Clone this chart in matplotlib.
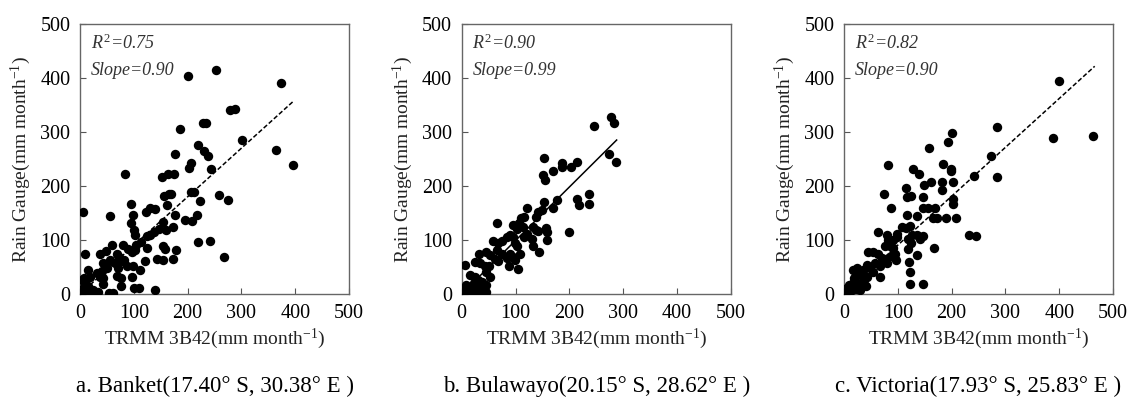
import numpy as np
import matplotlib
matplotlib.use("Agg")
import matplotlib.pyplot as plt

plt.rcParams['font.family'] = ['Liberation Serif', 'DejaVu Serif']
plt.rcParams['mathtext.fontset'] = 'custom'
plt.rcParams['mathtext.rm'] = 'Liberation Serif'
plt.rcParams['mathtext.it'] = 'Liberation Serif:italic'

# (TRMM, gauge) pairs, mm/month
banket_x = [201, 252, 374, 278, 289, 186, 229, 234, 302, 364, 395, 220, 230, 237, 177, 203, 206,
            243, 84, 153, 164, 175, 206, 212, 223, 258, 276, 156, 165, 169, 161, 195, 209, 217,
            177, 94, 5, 56, 98, 122, 131, 139, 95, 100, 102, 155, 159, 172, 124, 130, 138, 146,
            219, 242, 268, 155, 158, 143, 154, 173, 178, 121, 124, 113, 105, 9, 37, 48, 59, 79,
            90, 96, 102, 68, 73, 77, 56, 65, 71, 82, 87, 99, 112, 43, 50, 40, 31, 37, 43, 69, 77,
            96, 15, 19, 7, 9, 15, 3, 25, 34, 6, 19, 54, 62, 76, 100, 110, 139, 43, 3]
banket_y = [404, 415, 391, 341, 342, 305, 316, 316, 286, 267, 238, 276, 265, 256, 259, 234, 242,
            232, 222, 216, 222, 222, 188, 189, 173, 183, 174, 182, 185, 186, 164, 137, 136, 146,
            146, 167, 152, 145, 147, 152, 160, 157, 131, 119, 110, 133, 119, 125, 107, 110, 114, 120,
            96, 99, 69, 88, 83, 65, 63, 65, 81, 62, 86, 96, 91, 75, 75, 80, 90, 90,
            83, 78, 81, 75, 68, 62, 63, 57, 49, 63, 51, 51, 44, 57, 48, 43, 38, 32, 29, 34, 29,
            31, 44, 32, 29, 20, 15, 10, 7, 4, 2, 1, 1, 1, 15, 12, 12, 7, 18, 26]

bulawayo_x = [277, 284, 246, 273, 287, 153, 151, 155, 170, 186, 186, 203, 215, 153, 178, 170, 214,
              218, 237, 237, 200, 122, 142, 149, 139, 110, 116, 106, 114, 133, 139, 156, 158, 142,
              158, 143, 130, 132, 66, 96, 102, 115, 121, 105, 59, 68, 74, 84, 90, 95, 99, 102, 108,
              65, 74, 84, 87, 89, 95, 99, 53, 62, 68, 33, 45, 24, 34, 43, 50, 45, 53, 6, 15, 25,
              31, 37, 22, 29, 40, 46, 8, 12, 19, 3, 9, 37, 28, 46, 22, 34]
bulawayo_y = [327, 316, 312, 259, 245, 252, 220, 211, 228, 243, 236, 236, 245, 170, 175, 160, 176,
              164, 186, 166, 114, 160, 152, 156, 143, 140, 143, 131, 125, 125, 119, 123, 114, 117,
              100, 78, 102, 88, 131, 128, 120, 106, 112, 47, 99, 94, 99, 105, 109, 105, 94, 88, 75,
              81, 75, 66, 51, 75, 69, 63, 72, 64, 62, 75, 77, 59, 57, 51, 51, 41, 32, 54, 36, 32,
              26, 23, 20, 14, 12, 17, 17, 12, 7, 7, 2, 6, 4, 4, 1, 1]

victoria_x = [399, 389, 463, 285, 273, 285, 241, 200, 194, 158, 82, 129, 139, 184, 198, 198, 183,
              183, 202, 148, 161, 116, 118, 125, 74, 87, 146, 203, 202, 146, 157, 169, 118, 135,
              166, 172, 189, 209, 232, 245, 168, 64, 116, 123, 107, 99, 126, 135, 147, 141, 119,
              124, 119, 135, 121, 123, 123, 146, 79, 82, 92, 98, 76, 85, 92, 95, 97, 88, 45, 54,
              64, 70, 76, 79, 67, 58, 48, 53, 42, 36, 30, 24, 19, 43, 37, 27, 17, 10, 6, 2, 14,
              24, 8, 2, 30, 17, 24, 67, 41]
victoria_y = [394, 289, 293, 310, 256, 217, 219, 299, 282, 271, 238, 231, 222, 240, 231, 228, 208,
              193, 207, 201, 208, 196, 180, 182, 186, 160, 180, 176, 166, 160, 159, 159, 146, 145,
              140, 140, 140, 140, 110, 107, 85, 115, 122, 126, 125, 112, 109, 109, 107, 101, 101,
              94, 83, 72, 60, 40, 19, 19, 109, 100, 100, 106, 88, 88, 85, 75, 63, 70, 77, 77,
              75, 66, 63, 57, 51, 57, 48, 40, 54, 44, 37, 35, 29, 32, 26, 19, 20, 17, 12, 9, 7,
              10, 2, 2, 7, 44, 48, 32, 14]

# fitted lines: slope, x end
fit_slope = [0.90, 0.99, 0.905]
fit_xmax = [397, 288, 466]
r2_text = ['0.75', '0.90', '0.82']
slope_text = ['0.90', '0.99', '0.90']
captions = ['a. Banket(17.40° S, 30.38° E )',
            'b. Bulawayo(20.15° S, 28.62° E )',
            'c. Victoria(17.93° S, 25.83° E )']
xs = [banket_x, bulawayo_x, victoria_x]
ys = [banket_y, bulawayo_y, victoria_y]
line_styles = [(0, (3, 1.5)), '-', (0, (3, 1.5))]

fig = plt.figure(figsize=(11.38, 4.0), dpi=100)
lefts = [80, 461.7, 844]

for i in range(3):
    ax = fig.add_axes([lefts[i] / 1138, 1 - 294 / 400, 269 / 1138, 270 / 400])
    ax.scatter(xs[i], ys[i], s=46, color='black', zorder=3, linewidths=0)
    lx = np.array([0, fit_xmax[i]])
    ax.plot(lx, fit_slope[i] * lx, color='black', lw=1.1, ls=line_styles[i], zorder=4)
    ax.set_xlim(0, 500)
    ax.set_ylim(0, 500)
    ax.set_xticks(range(0, 501, 100))
    ax.set_yticks(range(0, 501, 100))
    ax.tick_params(direction='in', length=4, width=0.8, color='#555555',
                   labelsize=14.5, pad=7)
    for sp in ax.spines.values():
        sp.set_color('#666666')
        sp.set_linewidth(1.0)
    ax.set_xlabel('TRMM 3B42(mm month$^{-1}$)', fontsize=14, labelpad=3, color='#222222')
    ax.set_ylabel('Rain Gauge(mm month$^{-1}$)', fontsize=14, labelpad=5, color='#222222')
    ax.text(0.04, 0.93, '$R^2$=' + r2_text[i], transform=ax.transAxes, style='italic',
            fontsize=13, va='center', ha='left', color='#333333')
    ax.text(0.04, 0.826, 'Slope=' + slope_text[i], transform=ax.transAxes, style='italic',
            fontsize=13, va='center', ha='left', color='#333333')
    fig.text((lefts[i] + 134.5) / 1138, 1 - 386 / 400, captions[i], ha='center', va='center',
             fontsize=16.5)

fig.savefig('out.png', dpi=100)
